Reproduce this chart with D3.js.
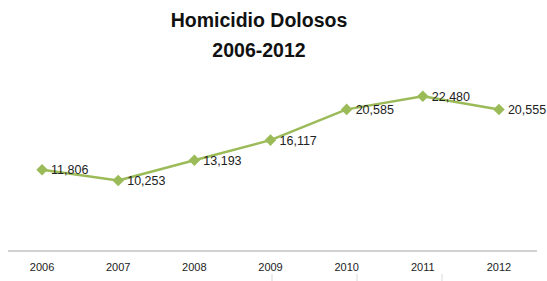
<!DOCTYPE html>
<html>
<head>
<meta charset="utf-8">
<script src="https://cdn.jsdelivr.net/npm/d3@7"></script>
<style>
  body { margin: 0; background: #fff; }
  text { font-family: "Liberation Sans", Arial, sans-serif; }
</style>
</head>
<body>
<svg id="chart"></svg>
<script>
// data
const years = ['2006', '2007', '2008', '2009', '2010', '2011', '2012'];
const homicides = [11806, 10253, 13193, 16117, 20585, 22480, 20555];
const titleLines = ['Homicidio Dolosos', '2006-2012'];

const width = 547, height = 281;
const margin = { top: 79, right: 10, bottom: 30, left: 4 };

const svg = d3.select('#chart')
    .attr('width', width)
    .attr('height', height);

const xScale = d3.scaleBand()
    .domain(years)
    .range([margin.left, 537]);

const yScale = d3.scaleLinear()
    .domain([0, 25000])
    .range([251, margin.top]);

// title
svg.append('g').selectAll('text').data(titleLines).enter()
  .append('text')
    .attr('x', 259)
    .attr('y', (d, i) => 27 + i * 30)
    .attr('text-anchor', 'middle')
    .style('font-size', '19.5px')
    .style('font-weight', 'bold')
    .style('fill', '#111')
    .text(d => d);

// x axis
const xAxis = d3.axisBottom(xScale).tickSize(0).tickPadding(12);
const xAxisG = svg.append('g')
    .attr('transform', `translate(0,251)`)
    .call(xAxis);
xAxisG.select('.domain')
    .attr('stroke', '#a6a6a6')
    .attr('stroke-width', 1.2)
    .attr('d', 'M8,0H537');
xAxisG.selectAll('text')
    .style('font-size', '11px')
    .style('fill', '#222');

// faint lines at the bottom edge
svg.append('g').selectAll('line').data([272, 357, 442]).enter()
  .append('line')
    .attr('x1', d => d).attr('x2', d => d)
    .attr('y1', 274).attr('y2', 281)
    .attr('stroke', '#d9d9d9');

const cx = (d, i) => xScale(years[i]) + xScale.bandwidth() / 2;

// line
const line = d3.line()
    .x((d, i) => cx(d, i))
    .y(d => yScale(d));

svg.append('path')
    .datum(homicides)
    .attr('fill', 'none')
    .attr('stroke', '#9bbb59')
    .attr('stroke-width', 2.5)
    .attr('stroke-linejoin', 'round')
    .attr('d', line);

// diamond markers
svg.append('g').selectAll('path').data(homicides).enter()
  .append('path')
    .attr('d', d3.symbol().type(d3.symbolDiamond2).size(85))
    .attr('transform', (d, i) => `translate(${cx(d, i)},${yScale(d)})`)
    .attr('fill', '#9bbb59');

// data labels
svg.append('g').selectAll('text').data(homicides).enter()
  .append('text')
    .attr('x', (d, i) => cx(d, i) + 9)
    .attr('y', d => yScale(d))
    .attr('dy', '0.36em')
    .style('font-size', '12.5px')
    .style('fill', '#222')
    .text(d => d3.format(',')(d));
</script>
</body>
</html>
